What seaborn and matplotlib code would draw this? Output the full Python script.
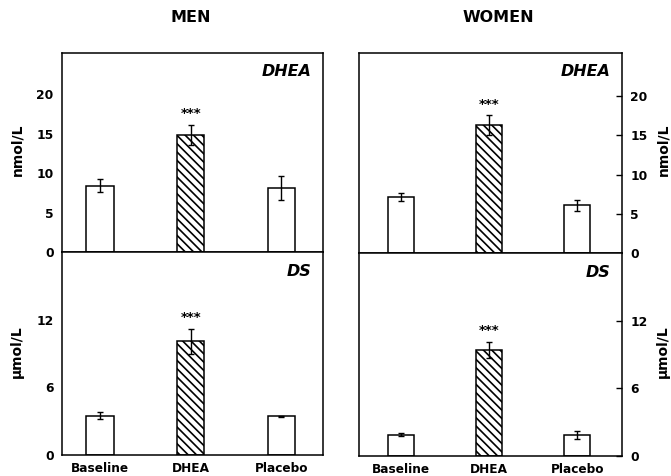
import numpy as np
import pandas as pd
import matplotlib
matplotlib.use("Agg")
import matplotlib.pyplot as plt
import seaborn as sns

# Serum DHEA (nmol/L) and DS (umol/L) by treatment condition, mean ± SEM
conditions = ["Baseline", "DHEA", "Placebo"]

men_dhea = [8.4, 14.8, 8.1]
men_dhea_err = [0.85, 1.3, 1.5]
women_dhea = [7.1, 16.3, 6.1]
women_dhea_err = [0.5, 1.3, 0.7]

men_ds = [3.5, 10.1, 3.45]
men_ds_err = [0.3, 1.1, 0.05]
women_ds = [1.9, 9.4, 1.85]
women_ds_err = [0.1, 0.75, 0.35]

dhea_ticks = [0, 5, 10, 15, 20]
ds_ticks = [0, 6, 12]
significance = ["", "***", ""]

sns.set_theme(style="white")
plt.rcParams["font.family"] = ["DejaVu Sans"]
plt.rcParams["font.weight"] = "bold"
plt.rcParams["text.color"] = "black"
plt.rcParams["axes.labelcolor"] = "black"
plt.rcParams["xtick.color"] = "black"
plt.rcParams["ytick.color"] = "black"
plt.rcParams["hatch.linewidth"] = 1.2
plt.rcParams["axes.edgecolor"] = "black"
plt.rcParams["axes.linewidth"] = 1.1

W, H = 671, 476
fig = plt.figure(figsize=(W / 100, H / 100), dpi=100)


def rect(x0, y0, x1, y1):
    return [x0 / W, 1 - y1 / H, (x1 - x0) / W, (y1 - y0) / H]


def panel(ax, values, errs, ylim, ticks, label, right, show_x, xlim):
    df = pd.DataFrame({"condition": conditions, "value": values})
    sns.barplot(data=df, x="condition", y="value", ax=ax, color="white",
                edgecolor="black", linewidth=1.1, width=0.3, saturation=1)
    ax.patches[1].set_hatch("\\\\\\\\")
    ax.errorbar(np.arange(len(values)), values, yerr=errs, fmt="none",
                ecolor="black", elinewidth=1.0, capsize=2, capthick=1.0,
                zorder=3)
    for i, s in enumerate(significance):
        if s:
            ax.text(i, values[i] + errs[i] + ylim[1] * 0.022, s,
                    ha="center", va="bottom", fontsize=9.5,
                    fontweight="bold", color="black")
    ax.set_ylim(*ylim)
    ax.set_xlim(*xlim)
    ax.set_yticks(ticks)
    ax.set_yticklabels([str(t) for t in ticks], fontsize=8.8,
                       fontweight="bold")
    ax.tick_params(axis="y", direction="in", length=4, width=1.0, pad=6,
                   colors="black")
    if right:
        ax.yaxis.tick_right()
    ax.set_xlabel("")
    ax.set_ylabel("")
    if show_x:
        ax.set_xticks(np.arange(len(conditions)))
        ax.set_xticklabels(conditions, fontsize=8.7, fontweight="bold")
        ax.tick_params(axis="x", length=0, pad=5, colors="black")
    else:
        ax.set_xticks([])
    ax.text(0.955, 0.905, label, transform=ax.transAxes, ha="right",
            va="center", fontsize=11.5, fontweight="bold", style="italic",
            color="black")
    for sp in ax.spines.values():
        sp.set_visible(True)
        sp.set_color("black")
        sp.set_linewidth(1.1)


ax_m1 = fig.add_axes(rect(62, 53, 323, 252))
ax_m2 = fig.add_axes(rect(62, 252, 323, 455))
ax_w1 = fig.add_axes(rect(359, 53, 622, 253))
ax_w2 = fig.add_axes(rect(359, 253, 622, 456))

xl_left = (-0.42, 2.46)
xl_right = (-0.48, 2.51)
panel(ax_m1, men_dhea, men_dhea_err, (0, 25.2), dhea_ticks, "DHEA", False, False, xl_left)
panel(ax_m2, men_ds, men_ds_err, (0, 18), ds_ticks, "DS", False, True, xl_left)
panel(ax_w1, women_dhea, women_dhea_err, (0, 25.5), dhea_ticks, "DHEA", True, False, xl_right)
panel(ax_w2, women_ds, women_ds_err, (0, 18), ds_ticks, "DS", True, True, xl_right)

fig.text(191 / W, 1 - 18 / H, "MEN", ha="center", va="center",
         fontsize=11.5, fontweight="bold")
fig.text(498 / W, 1 - 18 / H, "WOMEN", ha="center", va="center",
         fontsize=11.5, fontweight="bold")

fig.text(17 / W, 1 - 150 / H, "nmol/L", rotation=90, ha="center",
         va="center", fontsize=10, fontweight="bold")
fig.text(17 / W, 1 - 352 / H, "µmol/L", rotation=90, ha="center",
         va="center", fontsize=10, fontweight="bold")
fig.text(663 / W, 1 - 150 / H, "nmol/L", rotation=90, ha="center",
         va="center", fontsize=10, fontweight="bold")
fig.text(663 / W, 1 - 352 / H, "µmol/L", rotation=90, ha="center",
         va="center", fontsize=10, fontweight="bold")

fig.savefig("out.png", dpi=100, facecolor="white")
